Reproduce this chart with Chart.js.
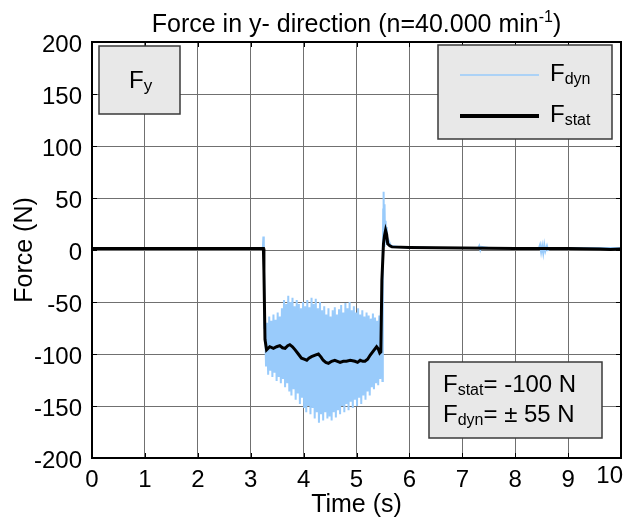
<!DOCTYPE html>
<html>
<head>
<meta charset="utf-8">
<script src="https://cdn.jsdelivr.net/npm/chart.js@4.4.1/dist/chart.umd.min.js"></script>
<style>
  html, body { margin: 0; padding: 0; background: #fff; }
  #wrap { width: 629px; height: 517px; }
</style>
</head>
<body>
<div id="wrap"><canvas id="chart" width="629" height="517"></canvas></div>
<script>
const FONT = '"Liberation Sans", Arial, sans-serif';

const xTicks = [0, 1, 2, 3, 4, 5, 6, 7, 8, 9, 10];
const yTicks = [-200, -150, -100, -50, 0, 50, 100, 150, 200];

// F_stat, thick black line
const statTime = [0, 2.0, 3.24, 3.25, 3.27, 3.30, 3.36, 3.43, 3.49, 3.55, 3.60, 3.65, 3.70, 3.74, 3.79, 3.84,
  3.90, 3.96, 4.01, 4.06, 4.10, 4.15, 4.22, 4.28, 4.33, 4.37, 4.42, 4.47, 4.53, 4.59, 4.64, 4.69, 4.75, 4.81,
  4.88, 4.97, 5.02, 5.07, 5.12, 5.16, 5.21, 5.26, 5.32, 5.38, 5.41, 5.44, 5.46, 5.48, 5.51, 5.53, 5.55, 5.57,
  5.59, 5.63, 5.67, 6.0, 7.0, 8.0, 9.0, 9.6, 9.8, 10];
const statForce = [1.5, 1.5, 1.5, -20, -86, -96, -93, -94.5, -93, -92, -94, -94.5, -92, -91, -93, -96,
  -100, -104, -105, -106, -104, -102.5, -101, -100, -103, -106, -108, -109, -107, -106, -107, -108, -107, -107,
  -106, -107, -108, -106, -107, -107, -105, -101, -97, -93, -95, -99, -98, -29, 6, 14, 19, 15,
  6, 4, 3, 2.5, 2, 1.5, 1.5, 1, 0.5, 1];

// F_dyn before the cut
const dynPreTime = [0, 1.5, 3.23, 3.24, 3.245, 3.25, 3.26];
const dynPreForce = [2, 2, 2, 13, -1, 9, -75];

// F_dyn during the cut, one sample every 0.02 s from 3.27 s
const dynCutStart = 3.27;
const dynCutStep = 0.02;
const dynCutForce = [
  -66, -112, -70, -120, -64, -116, -68, -122, -62, -118, -67, -126, -60, -122, -64, -128, -56, -124, -48, -132,
  -52, -128, -44, -136, -50, -140, -46, -134, -54, -144, -48, -138, -52, -148, -56, -142, -50, -152, -54, -156,
  -48, -150, -55, -158, -46, -152, -52, -162, -47, -156, -56, -166, -50, -158, -58, -164, -54, -156, -62, -162,
  -56, -160, -64, -164, -58, -156, -55, -161, -62, -154, -57, -158, -53, -150, -60, -156, -51, -148, -56, -154,
  -50, -146, -58, -152, -54, -144, -60, -150, -56, -142, -62, -148, -58, -140, -64, -144, -60, -136, -63, -140,
  -66, -132, -61, -134, -65, -128, -68, -130, -63, -124, -66, -126
];

// F_dyn after the cut
const dynPostTime = [5.495, 5.50, 5.505, 5.51, 5.515, 5.52, 5.525, 5.53, 5.535, 5.54, 5.55, 5.56, 5.57, 5.58,
  5.60, 5.65, 5.80, 6.5, 7.30, 7.32, 7.34, 7.36, 7.50, 8.45, 8.47, 8.49, 8.51, 8.53, 8.55, 8.57, 8.60, 8.62, 8.68, 10];
const dynPostForce = [-60, -10, 40, 12, 56, 4, 36, 10, 44, 8, 28, 12, 22, 8,
  10, 4, 3, 2, 2, 4, 0, 3, 2, 2, 5, -2, 4, -3, 5, -1, 4, 0, 2, 2];

const dynPoints = [];
dynPreTime.forEach((t, i) => dynPoints.push({ x: t, y: dynPreForce[i] }));
dynCutForce.forEach((f, i) => dynPoints.push({ x: dynCutStart + i * dynCutStep, y: f }));
dynPostTime.forEach((t, i) => dynPoints.push({ x: t, y: dynPostForce[i] }));
const statPoints = statTime.map((t, i) => ({ x: t, y: statForce[i] }));

const DYN_COLOR = '#99cbfb';

// text with subscript/superscript parts: [text, size, dy]
function drawParts(ctx, x, y, parts) {
  parts.forEach(p => {
    ctx.font = p[1] + 'px ' + FONT;
    ctx.fillText(p[0], x, y + p[2]);
    x += ctx.measureText(p[0]).width;
  });
  return x;
}
function partsWidth(ctx, parts) {
  let w = 0;
  parts.forEach(p => { ctx.font = p[1] + 'px ' + FONT; w += ctx.measureText(p[0]).width; });
  return w;
}
function box(ctx, x, y, w, h) {
  ctx.fillStyle = '#e8e8e8';
  ctx.fillRect(x, y, w, h);
  ctx.strokeStyle = '#3a3a3a';
  ctx.lineWidth = 1.5;
  ctx.strokeRect(x, y, w, h);
  ctx.fillStyle = '#000';
}

const decor = {
  id: 'decor',
  afterDraw(chart) {
    const ctx = chart.ctx;
    const a = chart.chartArea;
    const xs = chart.scales.x, ys = chart.scales.y;
    ctx.save();

    // inward tick marks
    ctx.strokeStyle = '#000';
    ctx.lineWidth = 1;
    ctx.beginPath();
    xTicks.forEach(v => {
      const p = Math.round(xs.getPixelForValue(v)) + 0.5;
      ctx.moveTo(p, a.bottom); ctx.lineTo(p, a.bottom - 5);
      ctx.moveTo(p, a.top); ctx.lineTo(p, a.top + 5);
    });
    yTicks.forEach(v => {
      const p = Math.round(ys.getPixelForValue(v)) + 0.5;
      ctx.moveTo(a.left, p); ctx.lineTo(a.left + 5, p);
      ctx.moveTo(a.right, p); ctx.lineTo(a.right - 5, p);
    });
    ctx.stroke();

    // frame
    ctx.lineWidth = 2;
    ctx.strokeRect(a.left, a.top, a.right - a.left, a.bottom - a.top);

    // x tick labels (last one pulled inside like the original)
    ctx.fillStyle = '#000';
    ctx.font = '24px ' + FONT;
    ctx.textBaseline = 'alphabetic';
    xTicks.forEach((v, i) => {
      const last = i === xTicks.length - 1;
      ctx.textAlign = last ? 'right' : 'center';
      ctx.fillText(String(v), last ? a.right + 2 : xs.getPixelForValue(v), last ? 483 : 487);
    });
    ctx.textAlign = 'left';

    // title
    const title = [['Force in y- direction (n=40.000 min', 25, 0], ['-1', 16, -10], [')', 25, 0]];
    drawParts(ctx, (a.left + a.right) / 2 - partsWidth(ctx, title) / 2, 32, title);

    // F_y label box
    box(ctx, 99, 46, 81, 68);
    drawParts(ctx, 129, 88, [['F', 24, 0], ['y', 17, 3]]);

    // legend box
    box(ctx, 438, 45, 174, 94);
    ctx.lineWidth = 1.5;
    ctx.strokeStyle = DYN_COLOR;
    ctx.beginPath(); ctx.moveTo(460, 75); ctx.lineTo(539, 75); ctx.stroke();
    ctx.lineWidth = 4;
    ctx.strokeStyle = '#000';
    ctx.beginPath(); ctx.moveTo(460, 116); ctx.lineTo(539, 116); ctx.stroke();
    drawParts(ctx, 550, 81, [['F', 24, 0], ['dyn', 16, 3]]);
    drawParts(ctx, 550, 122, [['F', 24, 0], ['stat', 16, 3]]);

    // value box
    box(ctx, 429, 362, 173, 76);
    drawParts(ctx, 443, 392, [['F', 24, 0], ['stat', 16, 3], ['= -100 N', 24, 0]]);
    drawParts(ctx, 443, 422, [['F', 24, 0], ['dyn', 16, 3], ['= \u00b1 55 N', 24, 0]]);

    ctx.restore();
  }
};

new Chart(document.getElementById('chart'), {
  type: 'line',
  data: {
    datasets: [
      {
        label: 'Fstat',
        data: statPoints,
        borderColor: '#000',
        borderWidth: 3,
        pointRadius: 0,
        tension: 0,
        order: 1
      },
      {
        label: 'Fdyn',
        data: dynPoints,
        borderColor: DYN_COLOR,
        borderWidth: 2,
        pointRadius: 0,
        tension: 0,
        order: 2
      }
    ]
  },
  options: {
    responsive: false,
    animation: false,
    events: [],
    layout: { padding: { top: 42, right: 8, bottom: 0, left: 0 } },
    plugins: {
      legend: { display: false },
      tooltip: { enabled: false }
    },
    scales: {
      x: {
        type: 'linear',
        min: 0,
        max: 10,
        afterBuildTicks: s => { s.ticks = xTicks.map(v => ({ value: v })); },
        afterFit: s => { s.height = 59; s.paddingLeft = 0; s.paddingRight = 0; },
        ticks: { display: false },
        grid: { color: '#707070', lineWidth: 1, drawTicks: false },
        border: { display: false },
        title: {
          display: true,
          text: 'Time (s)',
          color: '#000',
          font: { family: FONT, size: 25 },
          padding: { top: 0, bottom: -3 }
        }
      },
      y: {
        min: -200,
        max: 200,
        afterBuildTicks: s => { s.ticks = yTicks.map(v => ({ value: v })); },
        afterFit: s => { s.width = 92; s.paddingTop = 0; s.paddingBottom = 0; },
        ticks: {
          color: '#000',
          padding: 10,
          labelOffset: 3,
          font: { family: FONT, size: 24 },
          callback: v => String(v)
        },
        grid: { color: '#707070', lineWidth: 1, drawTicks: false },
        border: { display: false },
        title: {
          display: true,
          text: 'Force (N)',
          color: '#000',
          font: { family: FONT, size: 25 },
          padding: { top: 10, bottom: 0 }
        }
      }
    }
  },
  plugins: [decor]
});
</script>
</body>
</html>
